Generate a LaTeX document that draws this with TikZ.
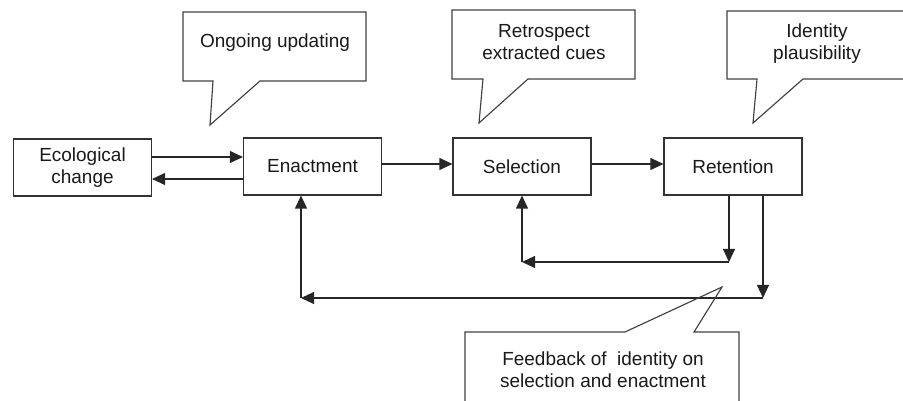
\documentclass[tikz,border=0pt]{standalone}
\usepackage{fontspec}
\setmainfont{Liberation Sans}
\usetikzlibrary{arrows.meta, calc}
\begin{document}
\begin{tikzpicture}[
    x=0.02cm, y=-0.02cm,
    every node/.style={font=\fontsize{10.8}{12.5}\selectfont, text=black!90},
    stage/.style={draw=black!80, line width=0.65pt, align=center,
      minimum width=2.76cm, minimum height=1.14cm, inner sep=2pt},
    arrow/.style={-{Triangle[length=7.4pt, width=6.8pt]}, draw=black!85, line width=0.65pt},
    callout/.style={draw=black!75, line width=0.65pt, line join=miter},
    note/.style={align=center, inner sep=0pt},
  ]
  \useasboundingbox (0,0) rectangle (903,401);
  \clip (0,0) rectangle (903,401);

  % Stages
  \node[stage] (eco)   at (82.5,167.5) {Ecological\\change};
  \node[stage] (enact) at (312.5,166.5) {Enactment};
  \node[stage] (sel)   at (522,166.5)   {Selection};
  \node[stage] (ret)   at (733,166.5)   {Retention};

  % Main flow
  \draw[arrow] ($(eco.east)+(0,-10.5)$) -- ($(enact.west)+(0,-9.5)$);
  \draw[arrow] ($(enact.west)+(0,12.5)$) -- ($(eco.east)+(0,11.5)$);
  \draw[arrow] ($(enact.east)+(0,-2.5)$) -- ($(sel.west)+(0,-2.5)$);
  \draw[arrow] ($(sel.east)+(0,-2.5)$) -- ($(ret.west)+(0,-2.5)$);

  % Feedback loops
  \coordinate (k1) at (729,262);
  \coordinate (k2) at (522,262);
  \coordinate (k3) at (763,298);
  \coordinate (k4) at (301,298);
  \draw[arrow] (ret.south -| k1) -- (k1);
  \draw[arrow] (k1) -- (k2);
  \draw[arrow] (k2) -- (sel.south -| k2);
  \draw[arrow] (ret.south -| k3) -- (k3);
  \draw[arrow] (k3) -- (k4);
  \draw[arrow] (k4) -- (enact.south -| k4);

  % Callouts
  \draw[callout] (213,81) -- (183,81) -- (183,12) -- (366,12) -- (366,81)
    -- (260,81) -- (210,125) -- cycle;
  \node[note] (upd) at (275,43) {Ongoing updating};

  \draw[callout] (483,79) -- (452,79) -- (452,10) -- (635,10) -- (635,79)
    -- (528,79) -- (479,123) -- cycle;
  \node[note] (cues) at (544,42) {Retrospect\\extracted cues};

  \draw[callout] (757,79) -- (727,79) -- (727,11) -- (910,11) -- (910,79)
    -- (803,79) -- (753,123) -- cycle;
  \node[note] (ident) at (817,44) {Identity\\plausibility};

  \draw[callout] (625,332) -- (465,332) -- (465,410) -- (739,410) -- (739,332)
    -- (694,332) -- (722,287) -- cycle;
  \node[note] (feed) at (603,370) {Feedback of \ identity on\\selection and enactment};
\end{tikzpicture}
\end{document}
